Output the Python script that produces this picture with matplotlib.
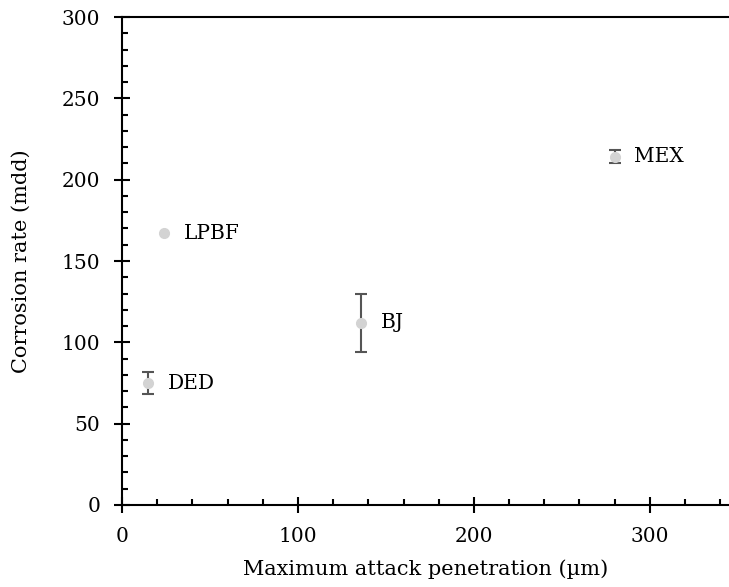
import matplotlib
matplotlib.use("Agg")
import matplotlib.pyplot as plt
from matplotlib.ticker import MultipleLocator

labels = ["LPBF", "DED", "BJ", "MEX"]
penetration = [24, 15, 136, 280]
corrosion = [167, 75, 112, 214]
corrosion_err = [0, 7, 18, 4]

plt.rcParams['font.family'] = ['DejaVu Serif']

fig = plt.figure(figsize=(7.29, 5.87), dpi=100)
ax = fig.add_axes([0.1674, 0.1397, 0.8326, 0.8313])

for x, y, e, lab in zip(penetration, corrosion, corrosion_err, labels):
    if e > 0:
        ax.errorbar(x, y, yerr=e, fmt='none', ecolor='#555555', elinewidth=1.5,
                    capsize=4, capthick=1.5, zorder=2)
    ax.plot(x, y, 'o', color='#d3d3d3', markersize=7, zorder=3)
    ax.annotate(lab, (x, y), xytext=(14, 0), textcoords='offset points',
                va='center', ha='left', fontsize=14.5)

ax.set_xlim(0, 345)
ax.set_ylim(0, 300)
ax.xaxis.set_major_locator(MultipleLocator(100))
ax.xaxis.set_minor_locator(MultipleLocator(20))
ax.yaxis.set_major_locator(MultipleLocator(50))
ax.yaxis.set_minor_locator(MultipleLocator(10))
ax.tick_params(which='major', direction='inout', length=11.5, width=1.5, labelsize=14.5, pad=10)
ax.tick_params(which='minor', direction='in', length=4.5, width=1.5)
ax.spines['right'].set_visible(False)
for s in ['left', 'bottom', 'top']:
    ax.spines[s].set_linewidth(1.5)

ax.set_xlabel("Maximum attack penetration (µm)", fontsize=15, labelpad=10)
ax.set_ylabel("Corrosion rate (mdd)", fontsize=15, labelpad=22)

fig.savefig("out.png", dpi=100)
